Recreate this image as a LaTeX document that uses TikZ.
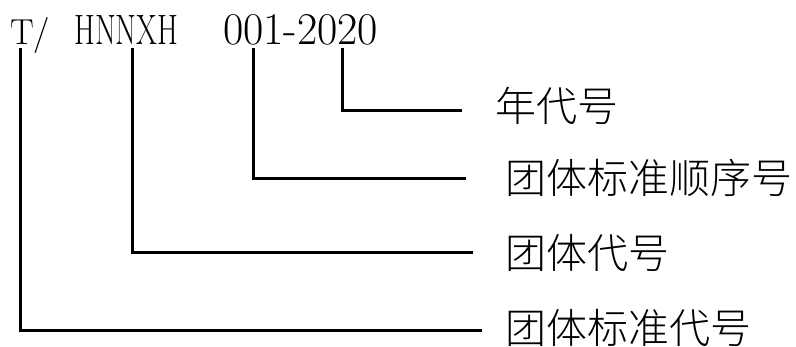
\documentclass[tikz,border=0pt]{standalone}
\usepackage{fontspec}
\usepackage{graphicx}
\newfontfamily\cjk{Noto Sans CJK SC Light}
\usetikzlibrary{positioning}
\tikzset{
  code/.style={anchor=base west,inner sep=0pt,font=\fontsize{42}{42}\selectfont},
  lbl/.style={anchor=west,inner sep=0pt,font=\cjk\fontsize{41}{41}\selectfont},
  leader/.style={line width=3pt,black}
}
\begin{document}
\begin{tikzpicture}[x=1pt,y=1pt]
	\useasboundingbox (0,0) rectangle (796,347);
	
	% the number on top
	\node[code] (std) at (10,302) {\resizebox*{40pt}{36pt}{T/}};
	\node[code] (org) at (74,302) {\resizebox{104pt}{29pt}{HNNXH}};
	\node[code] (num) at (223,302) {\resizebox{155pt}{30pt}{001-2020}};
	
	\coordinate (tStd) at (20,299);
	\coordinate (tOrg) at (132,299);
	\coordinate (tSeq) at (253,299);
	\coordinate (tYear) at (342,299);
	
	\coordinate (eYear) at (462,236);
	\coordinate (eSeq) at (466,168);
	\coordinate (eOrg) at (473,94);
	\coordinate (eStd) at (482,16);
	
	% labels
	\node[lbl] (lYear) at (495,241) {年代号};
	\node[lbl] (lSeq) at (505,169) {团体标准顺序号};
	\node[lbl] (lOrg) at (505,94) {团体代号};
	\node[lbl] (lStd) at (505,19) {团体标准代号};
	
	\draw[leader] (tYear) |- (eYear);
	\draw[leader] (tSeq) |- (eSeq);
	\draw[leader] (tOrg) |- (eOrg);
	\draw[leader] (tStd) |- (eStd);
\end{tikzpicture}
\end{document}
